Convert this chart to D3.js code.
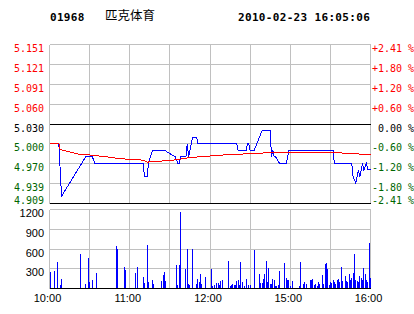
<!DOCTYPE html>
<html>
<head>
<meta charset="utf-8">
<script src="https://cdn.jsdelivr.net/npm/d3@7"></script>
<style>
    body { margin: 0; background: #fff; }
    svg { display: block; }
</style>
</head>
<body>
<div id="chart"></div>
<script>
"use strict";

// header
const stockCode = "01968";
const stockName = "匹克体育";
const stamp = "2010-02-23 16:05:06";

// axes
const prevClose = 5.030;
const priceSpan = 0.121;
const priceTicks = ["5.151", "5.121", "5.091", "5.060", "5.030", "5.000", "4.970", "4.939", "4.909"];
const pctTicks = ["+2.41 %", "+1.80 %", "+1.20 %", "+0.60 %", " 0.00 %", "-0.60 %", "-1.20 %", "-1.80 %", "-2.41 %"];
const volTicks = [1200, 900, 600, 300];
const timeTicks = [0, 60, 120, 180, 240];
const timeLabels = ["10:00", "11:00", "12:00", "15:00", "16:00"];

// minute, price
const priceSeries = [
    [0, 5.00], [7, 5.00], [8, 4.96], [9, 4.92], [27, 4.98], [32, 4.98], [34, 4.97], [70, 4.97],
    [71, 4.95], [73, 4.95], [74, 4.97], [77, 4.99], [86, 4.99], [94, 4.98], [96, 4.97], [97, 4.97],
    [98, 4.98], [102, 4.98], [103, 5.00], [104, 4.98], [106, 5.00], [107, 5.01], [110, 5.01], [111, 5.00],
    [140, 5.00], [141, 4.99], [147, 4.99], [148, 5.00], [149, 5.00], [150, 4.99], [153, 4.99], [159, 5.02],
    [165, 5.02], [166, 4.98], [167, 4.99], [168, 4.98], [169, 4.98], [172, 4.97], [177, 4.97], [179, 4.99],
    [212, 4.99], [213, 4.97], [226, 4.97], [227, 4.95], [229, 4.94], [231, 4.96], [232, 4.95], [233, 4.96],
    [234, 4.97], [235, 4.96], [237, 4.97], [238, 4.96], [240, 4.96]
];

// minute, average price
const avgSeries = [
    [0, 5.000], [7, 5.000], [8, 4.991], [12, 4.989], [16, 4.987], [22, 4.984], [29, 4.983], [34, 4.982],
    [43, 4.980], [50, 4.978], [54, 4.977], [70, 4.975], [73, 4.972], [80, 4.973], [90, 4.9745], [98, 4.9765],
    [105, 4.979], [115, 4.9805], [131, 4.983], [142, 4.984], [150, 4.985], [161, 4.986], [165, 4.987],
    [173, 4.987], [178, 4.986], [199, 4.986], [200, 4.987], [212, 4.987], [217, 4.986], [227, 4.985], [240, 4.983]
];

const volMinutes = [
    1, 4, 6, 8, 9, 23, 27, 29, 30, 32, 35, 50, 51, 56, 57, 64, 66, 70, 71, 73, 74, 77, 78,
    84, 85, 86, 87, 95, 96, 97, 98, 102, 103, 104, 105, 107, 110, 111, 112, 113, 114, 117,
    121, 122, 123, 125, 126, 127, 128, 129, 134, 135, 136, 137, 138, 139, 140, 141, 142, 143, 144,
    146, 147, 149, 150, 153, 157, 158, 159, 160, 161, 162, 163, 164, 165, 166, 167, 168, 169, 170,
    171, 172, 176, 177, 178, 179, 180, 182, 187, 188, 190, 191, 192, 195, 196, 197, 198, 199, 200,
    201, 202, 204, 205, 206, 207, 208, 209, 210, 211, 212, 213, 214, 215, 216, 217, 218, 219, 221,
    222, 223, 224, 225, 226, 227, 228, 229, 230, 231, 232, 233, 234, 235, 236, 237, 238, 239, 240
];
const volValues = [
    240, 260, 390, 45, 135, 510, 60, 450, 95, 125, 225, 645, 585, 315, 275, 225, 315, 165, 75, 660, 85, 125, 60,
    105, 195, 240, 105, 345, 45, 345, 1155, 285, 600, 60, 45, 585, 60, 135, 90, 220, 55, 160,
    290, 35, 50, 80, 80, 50, 110, 125, 410, 35, 50, 65, 50, 50, 110, 125, 50, 395, 95,
    35, 140, 50, 50, 575, 215, 80, 80, 140, 215, 410, 95, 305, 65, 65, 140, 125, 35, 35,
    50, 260, 380, 155, 125, 125, 35, 110, 35, 395, 65, 95, 65, 125, 125, 140, 50, 65, 35,
    95, 65, 200, 65, 365, 380, 290, 50, 95, 80, 125, 95, 65, 125, 140, 95, 320, 110, 185,
    110, 95, 215, 125, 155, 230, 515, 125, 110, 95, 185, 155, 125, 305, 215, 125, 95, 680, 155
];

const W = 414, H = 314;
const left = 49.5, right = 370.5;
const red = "#ff0000", green = "#006600", blue = "#0000ff", grid = "#c0c0c0";

const svg = d3.select("#chart").append("svg")
    .attr("width", W)
    .attr("height", H);

const x = d3.scaleLinear().domain([0, 240]).range([left, right]);
const yP = d3.scaleLinear().domain([prevClose - priceSpan, prevClose + priceSpan]).range([203.5, 44.5]);
const yV = d3.scaleLinear().domain([0, 1200]).range([288.5, 209.5]);

function px(v) {
    return Math.floor(v) + 0.5;
}

// header text
svg.append("text").attr("x", 50).attr("y", 21)
    .style("font", "bold 11px 'DejaVu Sans Mono'").style("letter-spacing", "0.3px")
    .text(stockCode);
svg.append("text").attr("x", 105).attr("y", 20)
    .style("font", "12.5px 'Noto Sans CJK SC'")
    .text(stockName);
svg.append("text").attr("x", 238).attr("y", 21)
    .style("font", "bold 11px 'DejaVu Sans Mono'").style("letter-spacing", "0.33px")
    .text(stamp);

// price panel grid
const priceLevels = d3.range(9).map(i => prevClose + priceSpan - i * priceSpan / 4);
const gridG = svg.append("g").attr("shape-rendering", "crispEdges");

gridG.selectAll(".pv").data(timeTicks.concat([30, 90, 150, 210])).enter()
    .append("line")
    .attr("x1", d => px(x(d))).attr("x2", d => px(x(d)))
    .attr("y1", px(yP.range()[1])).attr("y2", px(yP.range()[0]))
    .attr("stroke", grid);
gridG.selectAll(".ph").data(priceLevels).enter()
    .append("line")
    .attr("x1", left).attr("x2", right)
    .attr("y1", d => px(yP(d))).attr("y2", d => px(yP(d)))
    .attr("stroke", (d, i) => (i === 4 || i === 8) ? "#000" : grid);

// volume panel grid
gridG.selectAll(".vv").data(timeTicks.concat([30, 90, 150, 210])).enter()
    .append("line")
    .attr("x1", d => px(x(d))).attr("x2", d => px(x(d)))
    .attr("y1", px(yV(1200))).attr("y2", px(yV(0)))
    .attr("stroke", grid);
gridG.selectAll(".vh").data([1200, 900, 600, 300]).enter()
    .append("line")
    .attr("x1", left).attr("x2", right)
    .attr("y1", d => px(yV(d))).attr("y2", d => px(yV(d)))
    .attr("stroke", grid);

// volume bars
svg.append("g").attr("shape-rendering", "crispEdges")
    .selectAll("rect").data(volMinutes).enter()
    .append("rect")
    .attr("x", d => Math.floor(x(d)))
    .attr("y", (d, i) => Math.floor(yV(volValues[i])))
    .attr("width", 1)
    .attr("height", (d, i) => 289 - Math.floor(yV(volValues[i])))
    .attr("fill", blue);

svg.append("line").attr("shape-rendering", "crispEdges")
    .attr("x1", left).attr("x2", right)
    .attr("y1", px(yV(0))).attr("y2", px(yV(0)))
    .attr("stroke", "#000");

// price and average lines
const line = d3.line().x(d => x(d[0])).y(d => yP(d[1]));
svg.append("path").datum(priceSeries)
    .attr("d", line).attr("fill", "none")
    .attr("stroke", blue).attr("stroke-width", 1)
    .attr("shape-rendering", "crispEdges");
svg.append("path").datum(avgSeries)
    .attr("d", line).attr("fill", "none")
    .attr("stroke", red).attr("stroke-width", 1)
    .attr("shape-rendering", "crispEdges");

// labels
function tickColor(i) {
    return i < 4 ? red : (i === 4 ? "#000" : green);
}
function labelY(i) {
    return i === 8 ? Math.floor(yP(priceLevels[i])) + 0.5 : Math.floor(yP(priceLevels[i])) + 8;
}

svg.selectAll(".pl").data(priceTicks).enter()
    .append("text")
    .attr("x", 44).attr("y", (d, i) => labelY(i))
    .attr("text-anchor", "end")
    .attr("fill", (d, i) => tickColor(i))
    .style("font", "10px 'DejaVu Sans Mono'")
    .text(d => d);

svg.selectAll(".pr").data(pctTicks).enter()
    .append("text")
    .attr("x", 372).attr("y", (d, i) => labelY(i))
    .attr("fill", (d, i) => tickColor(i))
    .style("font", "10px 'DejaVu Sans Mono'")
    .style("white-space", "pre")
    .text(d => d);

svg.selectAll(".vl").data(volTicks).enter()
    .append("text")
    .attr("x", 44).attr("y", d => Math.floor(yV(d)) + 8)
    .attr("text-anchor", "end")
    .style("font", "11px 'Liberation Sans'")
    .text(d => d);

svg.selectAll(".tl").data(timeTicks).enter()
    .append("text")
    .attr("x", d => x(d) - 2).attr("y", 302)
    .attr("text-anchor", "middle")
    .style("font", "11px 'Liberation Sans'")
    .text((d, i) => timeLabels[i]);
</script>
</body>
</html>
